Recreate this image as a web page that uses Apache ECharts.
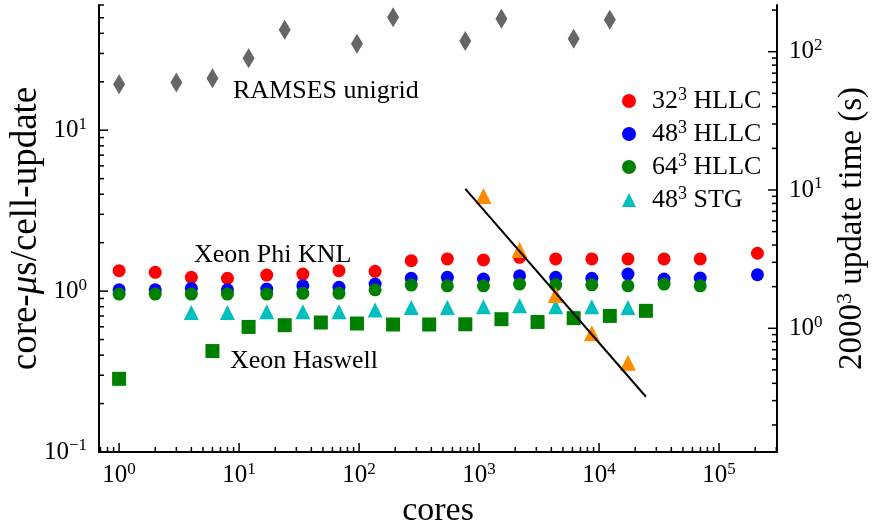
<!DOCTYPE html>
<html><head><meta charset="utf-8">
<script src="https://cdn.jsdelivr.net/npm/echarts@6/dist/echarts.min.js"></script>
<style>html,body{margin:0;padding:0;background:#fff}#c{width:875px;height:530px}</style>
</head><body><div id="c"></div>
<script>
// ---------------- data ----------------
const knlCores = [1,2,4,8,17,34,68,136,272,544,1088,2176,4352,8704,17408,34816,69632,208896];
const hllc32 = [1.339,1.308,1.218,1.200,1.258,1.276,1.339,1.327,1.545,1.584,1.561,1.622,1.584,1.584,1.584,1.584,1.584,1.719];
const hllc48 = [1.019,1.019,1.039,1.019,1.029,1.079,1.055,1.106,1.200,1.218,1.188,1.246,1.218,1.200,1.276,1.188,1.205,1.264];
const hllc64Cores = [1,2,4,8,17,34,68,136,272,544,1088,2176,4352,8704,17408,34816,69632];
const hllc64 = [0.958,0.958,0.958,0.958,0.958,0.968,0.968,1.019,1.090,1.079,1.079,1.106,1.094,1.094,1.079,1.106,1.079];
const stgCores = [4,8,17,34,68,136,272,544,1088,2176,4352,8704,17408];
const stg48 = [0.736,0.736,0.743,0.743,0.743,0.764,0.791,0.791,0.798,0.810,0.798,0.798,0.791];
const haswellCores = [1,6,12,24,48,96,192,384,768,1536,3072,6144,12288,24576];
const haswell = [0.285,0.424,0.599,0.614,0.638,0.629,0.620,0.620,0.622,0.669,0.643,0.679,0.701,0.754];
const ramsesCores = [1,3,6,12,24,96,192,768,1536,6144,12288];
const ramses = [19.3,19.8,21.0,28.0,42.1,34.4,50.3,35.9,49.2,37.0,48.5];
const knl2000Cores = [1088,2176,4352,8704,17408];
const updateTime = [9.05,3.68,1.741,0.920,0.564];
const idealCores = [768,24576];
const idealTime = [10.2,0.32];
const legendNames = ['32^3 HLLC','48^3 HLLC','64^3 HLLC','48^3 STG'];
const xMajor = [1,10,100,1000,10000,100000];
const yLeftMajor = [0.1,1,10];
const yRightMajor = [1,10,100];

// ---------------- axis ranges ----------------
const X_MIN = 0.68, X_MAX = 3.04e5;
const YL_MIN = 0.1, YL_MAX = 60;
const YR_MIN = 0.1275, YR_MAX = 217.6;

const FONT = '"Liberation Serif", "DejaVu Serif", serif';
const zip = (a, b) => a.map((v, i) => [v, b[i]]);

function minorTicks(kFrom, kTo, lo, hi) {
  const out = [];
  for (let k = kFrom; k <= kTo; k++) for (let m = 2; m <= 9; m++) {
    const v = m * Math.pow(10, k);
    if (v >= lo && v <= hi) out.push(v);
  }
  return out;
}
const xMinor = minorTicks(-1, 5, X_MIN, X_MAX);
const ylMinor = minorTicks(-1, 1, YL_MIN, YL_MAX);
const yrMinor = minorTicks(-1, 2, YR_MIN, YR_MAX);

function powLabel(v) {
  const l = Math.log10(v), e = Math.round(l);
  if (Math.abs(l - e) > 1e-6) return '';
  return '{b|10}{s|' + (e < 0 ? '\u2212' + (-e) : e) + '}';
}
function supFmt(name) {
  const m = name.match(/^(.*?)\^(\S+)(.*)$/);
  if (!m) return '{f|' + name + '}';
  return '{f|' + m[1] + '}{s|' + m[2] + '}{b|' + m[3] + '}';
}
const tickRich = {
  b: {fontSize: 25, fontFamily: FONT, color: '#000', lineHeight: 29},
  s: {fontSize: 17, fontFamily: FONT, color: '#000', lineHeight: 17, verticalAlign: 'top'}
};
const MAJ = 9, MIN = 5;
function tickLine(x1, y1, x2, y2) {
  return {type: 'line', shape: {x1, y1, x2, y2}, style: {stroke: '#000', lineWidth: 1.5}};
}

const chart = echarts.init(document.getElementById('c'), null, {renderer: 'canvas'});
const baseAxis = {
  type: 'log', logBase: 10,
  splitLine: {show: false},
  axisTick: {show: false},
  minorTick: {show: false},
  axisLine: {show: true, lineStyle: {color: '#000', width: 2}},
};
chart.setOption({
  animation: false,
  backgroundColor: '#fff',
  grid: {left: 99, right: 98, top: 5, bottom: 78, containLabel: false, outerBoundsMode: 'none'},
  xAxis: [Object.assign({}, baseAxis, {
    min: X_MIN, max: X_MAX,
    axisLabel: {formatter: powLabel, margin: 9, rich: tickRich},
    name: 'cores', nameLocation: 'middle', nameGap: 42,
    nameTextStyle: {fontSize: 34, fontFamily: FONT, color: '#000'}
  })],
  yAxis: [Object.assign({}, baseAxis, {
    min: YL_MIN, max: YL_MAX, position: 'left',
    axisLabel: {formatter: powLabel, margin: 12, rich: tickRich},
    name: '{b|core-}{i|\u03bc}{b|s/cell-update}', nameLocation: 'middle', nameGap: 54,
    nameMoveOverlap: false,
    nameTextStyle: {fontFamily: FONT, color: '#000', rich: {
      b: {fontSize: 37, fontFamily: FONT, color: '#000'},
      i: {fontSize: 37, fontFamily: FONT, color: '#000', fontStyle: 'italic'}
    }}
  }), Object.assign({}, baseAxis, {
    min: YR_MIN, max: YR_MAX, position: 'right',
    axisLabel: {formatter: powLabel, margin: 12, rich: tickRich},
    name: '{b|2000}{s|3}{b| update time (s)}', nameLocation: 'middle', nameGap: 57,
    nameTextStyle: {fontFamily: FONT, color: '#000', rich: {
      b: {fontSize: 33, fontFamily: FONT, color: '#000', lineHeight: 37},
      s: {fontSize: 22, fontFamily: FONT, color: '#000', lineHeight: 22, verticalAlign: 'top'}
    }}
  })],
  legend: {
    data: legendNames, orient: 'vertical', left: 617, top: 81,
    itemWidth: 14, itemHeight: 14, itemGap: 5, selectedMode: false,
    formatter: supFmt,
    textStyle: {color: '#000', fontFamily: FONT, rich: {
      f: {fontSize: 26, fontFamily: FONT, color: '#000', lineHeight: 30, padding: [0, 0, 0, 11]},
      b: {fontSize: 26, fontFamily: FONT, color: '#000', lineHeight: 30},
      s: {fontSize: 18, fontFamily: FONT, color: '#000', lineHeight: 18, verticalAlign: 'top'}
    }}
  },
  graphic: [
    {type: 'text', x: 233, y: 91, style: {text: 'RAMSES unigrid', font: '26px ' + FONT, fill: '#000', textVerticalAlign: 'middle'}},
    {type: 'text', x: 194, y: 255, style: {text: 'Xeon Phi KNL', font: '26px ' + FONT, fill: '#000', textVerticalAlign: 'middle'}},
    {type: 'text', x: 230, y: 361, style: {text: 'Xeon Haswell', font: '26px ' + FONT, fill: '#000', textVerticalAlign: 'middle'}}
  ],
  series: [
    {type: 'scatter', name: 'RAMSES unigrid', data: zip(ramsesCores, ramses), symbol: 'diamond', symbolSize: [12, 20],
     itemStyle: {color: '#666666', opacity: 1}, z: 2},
    {type: 'scatter', name: legendNames[0], data: zip(knlCores, hllc32), symbol: 'circle', symbolSize: 13,
     itemStyle: {color: '#ff0000', opacity: 1}, z: 3},
    {type: 'scatter', name: legendNames[1], data: zip(knlCores, hllc48), symbol: 'circle', symbolSize: 13,
     itemStyle: {color: '#0000ff', opacity: 1}, z: 4},
    {type: 'scatter', name: legendNames[2], data: zip(hllc64Cores, hllc64), symbol: 'circle', symbolSize: 13,
     itemStyle: {color: '#008000', opacity: 1}, z: 5},
    {type: 'scatter', name: legendNames[3], data: zip(stgCores, stg48), symbol: 'triangle', symbolSize: 15,
     itemStyle: {color: '#00bfbf', opacity: 1}, z: 6},
    {type: 'scatter', name: 'Xeon Haswell', data: zip(haswellCores, haswell), symbol: 'rect', symbolSize: 14,
     itemStyle: {color: '#008000', opacity: 1}, z: 6},
    {type: 'scatter', name: 'KNL 2000^3', yAxisIndex: 1, data: zip(knl2000Cores, updateTime), symbol: 'triangle', symbolSize: 16,
     itemStyle: {color: '#ff8c00', opacity: 1}, z: 7},
    {type: 'line', name: 'ideal', yAxisIndex: 1, data: zip(idealCores, idealTime), symbol: 'none',
     lineStyle: {color: '#000', width: 2}, z: 8},
    {type: 'custom', name: 'ticksL', xAxisIndex: 0, yAxisIndex: 0, data: [[1, 1]], silent: true, z: 10,
     renderItem: (params, api) => {
       const ch = [];
       xMajor.concat(xMinor).forEach((v, i) => {
         const p = api.coord([v, YL_MIN]); const len = i < xMajor.length ? MAJ : MIN;
         ch.push(tickLine(p[0], p[1], p[0], p[1] - len));
       });
       yLeftMajor.concat(ylMinor).forEach((v, i) => {
         const p = api.coord([X_MIN, v]); const len = i < yLeftMajor.length ? MAJ : MIN;
         ch.push(tickLine(p[0], p[1], p[0] + len, p[1]));
       });
       return {type: 'group', children: ch};
     }},
    {type: 'custom', name: 'ticksR', xAxisIndex: 0, yAxisIndex: 1, data: [[1, 1]], silent: true, z: 10,
     renderItem: (params, api) => {
       const ch = [];
       yRightMajor.concat(yrMinor).forEach((v, i) => {
         const p = api.coord([X_MAX, v]); const len = i < yRightMajor.length ? MAJ : MIN;
         ch.push(tickLine(p[0], p[1], p[0] - len, p[1]));
       });
       return {type: 'group', children: ch};
     }}
  ]
});
</script>
</body></html>
